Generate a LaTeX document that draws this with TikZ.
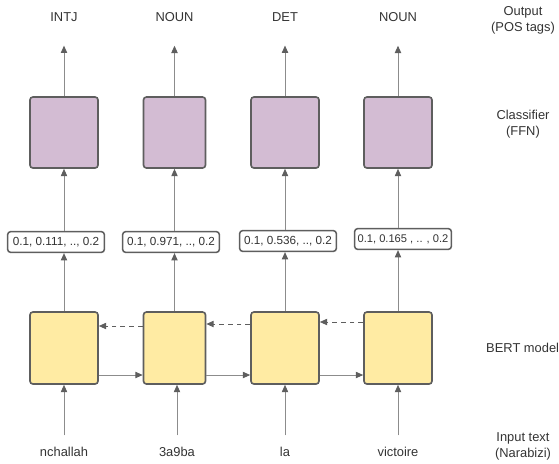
\documentclass[tikz,border=0pt]{standalone}
\usepackage{fontspec}
\setmainfont{Liberation Sans}
\usepackage{xcolor}
\usepackage{tikz}
\usetikzlibrary{arrows.meta,positioning}
\definecolor{edge}{HTML}{5E5E5E}
\definecolor{wire}{HTML}{8C8C8C}
\definecolor{ffn}{HTML}{D3BCD3}
\definecolor{bert}{HTML}{FFEBA3}
\definecolor{ink}{HTML}{333333}
\tikzset{
  ffnbox/.style={draw=edge, fill=ffn, line width=1.4pt, rounded corners=2.5pt, minimum width=2.04cm, minimum height=2.13cm, inner sep=0pt},
  bertbox/.style={draw=edge, fill=bert, line width=1.4pt, rounded corners=2.5pt, minimum width=2.04cm, minimum height=2.16cm, inner sep=0pt},
  vecbox/.style={draw=edge, fill=white, line width=1.3pt, rounded corners=2.5pt, minimum width=2.9cm, minimum height=0.62cm, inner sep=1pt, text=ink, font=\fontsize{10}{12}\selectfont},
  lab/.style={text=ink, font=\fontsize{11}{13.6}\selectfont},
  side/.style={text=ink, font=\fontsize{11}{13.6}\selectfont, align=center},
  arr/.style={draw=wire, line width=0.8pt, -{Triangle[length=2.2mm, width=1.9mm, color=edge]}},
  back/.style={draw=edge, line width=0.8pt, dash pattern=on 4pt off 3.5pt, -{Triangle[length=2.2mm, width=1.9mm]}},
}
\begin{document}
\begin{tikzpicture}[x=0.03cm, y=-0.03cm]
\useasboundingbox (0,0) rectangle (559,463);

% classifier row
\node[ffnbox] (ffn1) at (64,132.5) {};
\node[ffnbox, minimum width=1.86cm] (ffn2) at (174.5,132.5) {};
\node[ffnbox] (ffn3) at (285,132.5) {};
\node[ffnbox] (ffn4) at (398,132.5) {};

% bert row
\node[bertbox] (bert1) at (64,348) {};
\node[bertbox, minimum width=1.86cm] (bert2) at (174.5,348) {};
\node[bertbox] (bert3) at (285,348) {};
\node[bertbox] (bert4) at (398,348) {};

% embeddings
\node[vecbox] (vec1) at (56,242) {0.1, 0.111, .., 0.2};
\node[vecbox] (vec2) at (171,242) {0.1, 0.971, .., 0.2};
\node[vecbox] (vec3) at (288,241) {0.1, 0.536, .., 0.2};
\node[vecbox, font=\fontsize{9.5}{12}\selectfont] (vec4) at (403,239) {0.1, 0.165 , .. , 0.2};

% tags and words
\node[lab] (out1) at (64,17) {INTJ};
\node[lab] (out2) at (174.5,17) {NOUN};
\node[lab] (out3) at (285,17) {DET};
\node[lab] (out4) at (398,17) {NOUN};

\node[lab] (in1) at (64,452) {nchallah};
\node[lab] (in2) at (177,452) {3a9ba};
\node[lab] (in3) at (285,452) {la};
\node[lab] (in4) at (398,452) {victoire};

% side captions
\node[side] (capout) at (523,20) {Output\\(POS tags)};
\node[side] (capffn) at (523,124.5) {Classifier\\(FFN)};
\node[side, anchor=west, inner sep=0pt] (capbert) at (486,348) {BERT model};
\node[side] (capin) at (523,446) {Input text\\(Narabizi)};

% vertical flow
\foreach \i in {1,...,4}{
  \draw[arr, shorten >=0.6cm] (ffn\i.north) -- (out\i);
  \draw[arr] (vec\i.north -| ffn\i) -- (ffn\i.south);
  \draw[arr] (bert\i.north) -- (bert\i.north |- vec\i.south);
  \draw[arr, shorten <=0.5cm] (in\i |- in1) -- (bert\i.south -| in\i);
}

% forward and backward links
\draw[arr] ([yshift=-0.81cm]bert1.east) -- ([yshift=-0.81cm]bert2.west);
\draw[arr] ([yshift=-0.81cm]bert2.east) -- ([yshift=-0.81cm]bert3.west);
\draw[arr] ([yshift=-0.81cm]bert3.east) -- ([yshift=-0.81cm]bert4.west);
\draw[back] ([yshift=0.66cm]bert2.west) -- ([yshift=0.66cm]bert1.east);
\draw[back] ([yshift=0.72cm]bert3.west) -- ([yshift=0.72cm]bert2.east);
\draw[back] ([yshift=0.78cm]bert4.west) -- ([yshift=0.78cm]bert3.east);
\end{tikzpicture}
\end{document}
